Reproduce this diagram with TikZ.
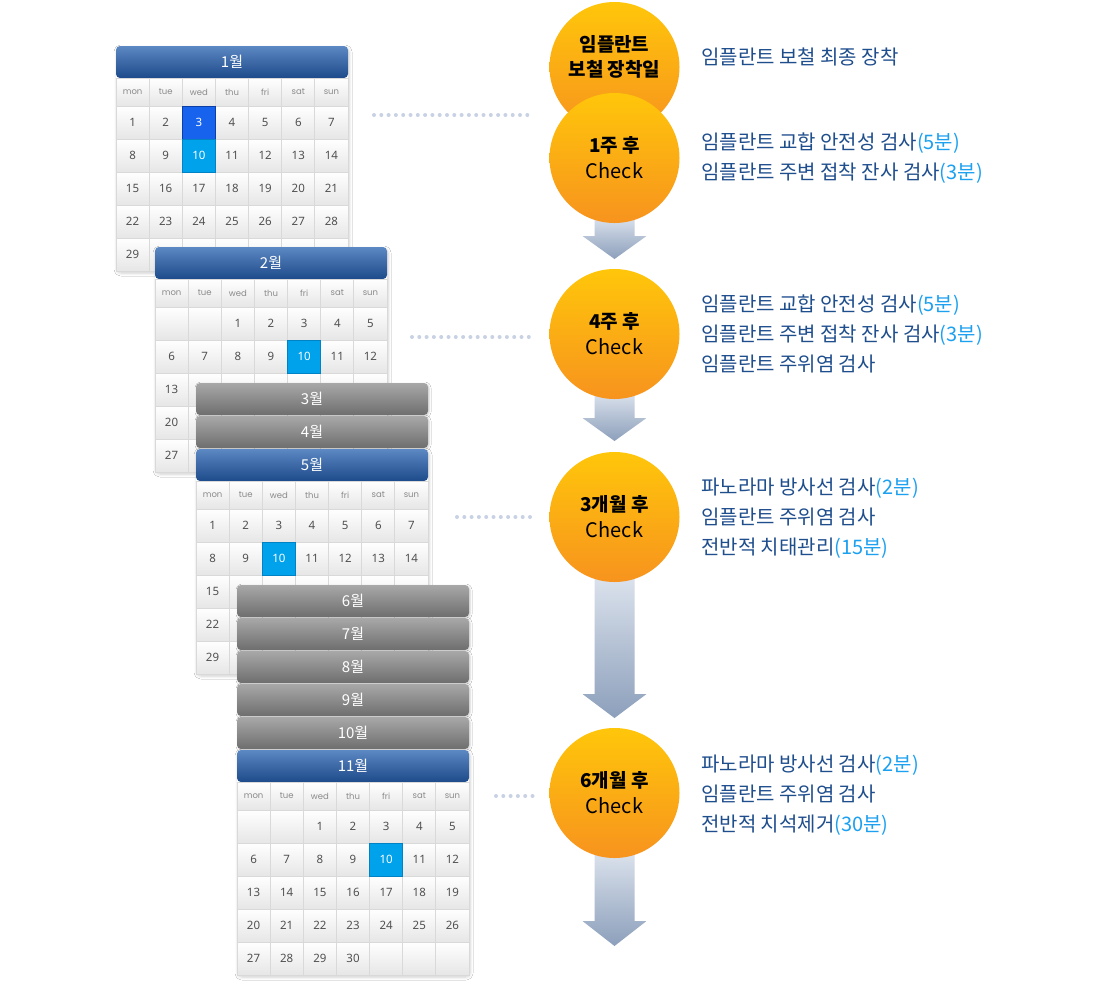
\documentclass[tikz,border=0pt]{standalone}
\usepackage{fontspec}
\setmainfont{Noto Sans CJK KR}
\newfontfamily\numfont{Noto Sans}
\newfontfamily\dayfont{Poppins}
\usetikzlibrary{calc,shadows.blur}

\definecolor{navy}{HTML}{1F4E8D}
\definecolor{hlblue}{HTML}{1CA0F0}
\definecolor{cyel}{HTML}{FFC60A}
\definecolor{corange}{HTML}{F7931E}
\definecolor{arrtop}{HTML}{DCE3ED}
\definecolor{arrbot}{HTML}{8C9FBB}
\definecolor{headtop}{HTML}{5C88C3}
\definecolor{headbot}{HTML}{1D4A8A}
\definecolor{graytop}{HTML}{A8A8A8}
\definecolor{graybot}{HTML}{6E6E6E}
\definecolor{cellline}{HTML}{D9D9D9}
\definecolor{cellbot}{HTML}{E6E6E6}
\definecolor{numgray}{HTML}{505050}
\definecolor{daygray}{HTML}{8A8A8A}
\definecolor{hlA}{HTML}{1763EE}
\definecolor{hlAd}{HTML}{0B3FA8}
\definecolor{hlB}{HTML}{00A2EC}
\definecolor{hlBd}{HTML}{0082C4}
\definecolor{dotcol}{HTML}{C8D2E4}

\newcommand\hl[1]{\textcolor{hlblue}{#1}}

\tikzset{
  calbody/.style={rounded corners=4pt, fill=white, minimum width=232pt, minimum height=225pt,
    inner sep=0pt, outer sep=0pt,
    blur shadow={shadow xshift=1pt, shadow yshift=-2pt, shadow blur radius=3pt, shadow opacity=20}},
  bluehead/.style={rounded corners=4pt, top color=headtop, bottom color=headbot,
    minimum width=232pt, minimum height=32pt, inner sep=0pt, outer sep=0pt,
    text=white, font=\fontsize{15}{16}\selectfont},
  graybar/.style={rounded corners=4pt, top color=graytop, bottom color=graybot,
    minimum width=232pt, minimum height=32pt, inner sep=0pt, outer sep=0pt,
    text=white, font=\fontsize{15}{16}\selectfont,
    blur shadow={shadow xshift=1pt, shadow yshift=-1pt, shadow blur radius=2pt, shadow opacity=20}},
  dayname/.style={draw=cellline, line width=0.8pt, top color=white, bottom color=cellbot,
    minimum width=33.142857pt, minimum height=28pt, inner sep=0pt, outer sep=0pt,
    text=daygray, font=\dayfont\fontsize{8.5}{9}\selectfont},
  cell/.style={draw=cellline, line width=0.8pt, top color=white, bottom color=cellbot,
    minimum width=33.142857pt, minimum height=33pt, inner sep=0pt, outer sep=0pt,
    text=numgray, font=\numfont\fontsize{11.5}{12}\selectfont},
  hlcell/.style={minimum width=33.142857pt, minimum height=33pt, inner sep=0pt, outer sep=0pt,
    text=white, font=\numfont\fontsize{11.5}{12}\selectfont},
  circ/.style={circle, minimum size=130pt, inner sep=0pt, top color=cyel, bottom color=corange,
    align=center, text=black, font=\fontsize{19}{26}\selectfont},
  arrowshade/.style={top color=arrtop, bottom color=arrbot},
  dotline/.style={line width=4pt, line cap=round, dash pattern=on 0pt off 7.3pt, color=dotcol},
  desc/.style={anchor=base west, inner sep=0pt, text=navy, font=\fontsize{20}{24}\selectfont},
}

\newcommand\chk{{\fontsize{20}{26}\selectfont Check}}

% #1 id, #2 x, #3 y (top), #4 title, #5 offset, #6 number of days,
% #7 first row from which only the first column is left uncovered
\newcommand\calblock[7]{%
  \node[calbody, anchor=north west] (#1b) at (#2,-#3) {};
  \node[bluehead, anchor=north west] (#1h) at (#2,-#3) {#4};
  \foreach \dn [count=\i from 0] in {mon,tue,wed,thu,fri,sat,sun}
    \node[dayname, anchor=north west] (#1d\i) at ({#2+\i*33.142857},{-#3-32}) {\dn};
  \foreach \r in {0,...,4}{%
    \foreach \cc in {0,...,6}{%
      \pgfmathtruncatemacro\dnum{\r*7+\cc+1-#5}%
      \ifnum\dnum<1 \def\lab{}\else\ifnum\dnum>#6 \def\lab{}\else\let\lab\dnum\fi\fi
      \ifnum\r<#7 \else\ifnum\cc>0 \def\lab{}\fi\fi
      \node[cell, anchor=north west] (#1c\r\cc) at ({#2+\cc*33.142857},{-#3-60-\r*33}) {\lab};
    }}%
}

% #1 from node, #2 head top y, #3 tip y
\newcommand\flowarrow[3]{%
  \shade[arrowshade] let \p1=(#1.center) in
    (\x1-20,\y1-58) -- (\x1+20,\y1-58) -- (\x1+20,-#2) -- (\x1+32,-#2) --
    (\x1,-#3) -- (\x1-32,-#2) -- (\x1-20,-#2) -- cycle;
}

\begin{document}
\begin{tikzpicture}[x=1pt,y=1pt]
\useasboundingbox (0,0) rectangle (1100,-986);
\fill[white] (0,0) rectangle (1100,-986);

% ---- calendars ----
\calblock{jan}{116}{46}{1월}{0}{31}{4}
\node[hlcell, fill=hlA, draw=hlAd, line width=0.8pt, anchor=north west] (janh3) at (janc02.north west) {3};
\node[hlcell, fill=hlB, draw=hlBd, line width=0.8pt, anchor=north west] (janh10) at (janc12.north west) {10};

\calblock{feb}{155}{247}{2월}{2}{28}{2}
\node[hlcell, fill=hlB, draw=hlBd, line width=0.8pt, anchor=north west] (febh10) at (febc14.north west) {10};

\node[graybar, anchor=north west] (m3) at (196,-383) {3월};
\node[graybar, anchor=north west] (m4) at (196,-416) {4월};

\calblock{may}{196}{449}{5월}{0}{31}{2}
\node[hlcell, fill=hlB, draw=hlBd, line width=0.8pt, anchor=north west] (mayh10) at (mayc12.north west) {10};

\node[graybar, anchor=north west] (m6) at (237,-585) {6월};
\node[graybar, anchor=north west] (m7) at (237,-618) {7월};
\node[graybar, anchor=north west] (m8) at (237,-651) {8월};
\node[graybar, anchor=north west] (m9) at (237,-684) {9월};
\node[graybar, anchor=north west] (m10) at (237,-717) {10월};

\calblock{nov}{237}{750}{11월}{2}{30}{5}
\node[hlcell, fill=hlB, draw=hlBd, line width=0.8pt, anchor=north west] (novh10) at (novc14.north west) {10};

% ---- dotted leaders ----
\coordinate (dl1) at (374,-115); \coordinate (dr1) at (534,-115);
\coordinate (dl2) at (412,-337); \coordinate (dr2) at (534,-337);
\coordinate (dl3) at (457,-517); \coordinate (dr3) at (534,-517);
\coordinate (dl4) at (496,-796); \coordinate (dr4) at (534,-796);
\draw[dotline] (dl1) -- (dr1);
\draw[dotline] (dl2) -- (dr2);
\draw[dotline] (dl3) -- (dr3);
\draw[dotline] (dl4) -- (dr4);

% ---- circle centres, arrows (behind), circles ----
\coordinate (p1) at (614.5,-67);
\coordinate (p2) at (614.5,-158);
\coordinate (p3) at (614.5,-334);
\coordinate (p4) at (614.5,-517);
\coordinate (p5) at (614.5,-793);

\flowarrow{p2}{236}{259}
\flowarrow{p3}{418}{441}
\flowarrow{p4}{694}{718}
\flowarrow{p5}{921}{946}

\node[circ] (c1) at (p1) {};
\node[font=\fontsize{19}{25}\selectfont\bfseries, align=center, inner sep=0pt] (t1) at (614.5,-57) {임플란트\\보철 장착일};
\node[circ] (c2) at (p2) {{\bfseries 1주 후}\\\chk};
\node[circ] (c3) at (p3) {{\bfseries 4주 후}\\\chk};
\node[circ] (c4) at (p4) {{\bfseries 3개월 후}\\\chk};
\node[circ] (c5) at (p5) {{\bfseries 6개월 후}\\\chk};

% ---- descriptions ----
\node[desc] (d1) at (701,-64.5) {임플란트 보철 최종 장착};
\node[desc] (d2a) at (701,-149) {임플란트 교합 안전성 검사\hl{(5분)}};
\node[desc] (d2b) at (701,-179) {임플란트 주변 접착 잔사 검사\hl{(3분)}};
\node[desc] (d3a) at (701,-311) {임플란트 교합 안전성 검사\hl{(5분)}};
\node[desc] (d3b) at (701,-341) {임플란트 주변 접착 잔사 검사\hl{(3분)}};
\node[desc] (d3c) at (701,-371) {임플란트 주위염 검사};
\node[desc] (d4a) at (701,-494) {파노라마 방사선 검사\hl{(2분)}};
\node[desc] (d4b) at (701,-524) {임플란트 주위염 검사};
\node[desc] (d4c) at (701,-554) {전반적 치태관리\hl{(15분)}};
\node[desc] (d5a) at (701,-771) {파노라마 방사선 검사\hl{(2분)}};
\node[desc] (d5b) at (701,-801) {임플란트 주위염 검사};
\node[desc] (d5c) at (701,-831) {전반적 치석제거\hl{(30분)}};
\end{tikzpicture}
\end{document}
